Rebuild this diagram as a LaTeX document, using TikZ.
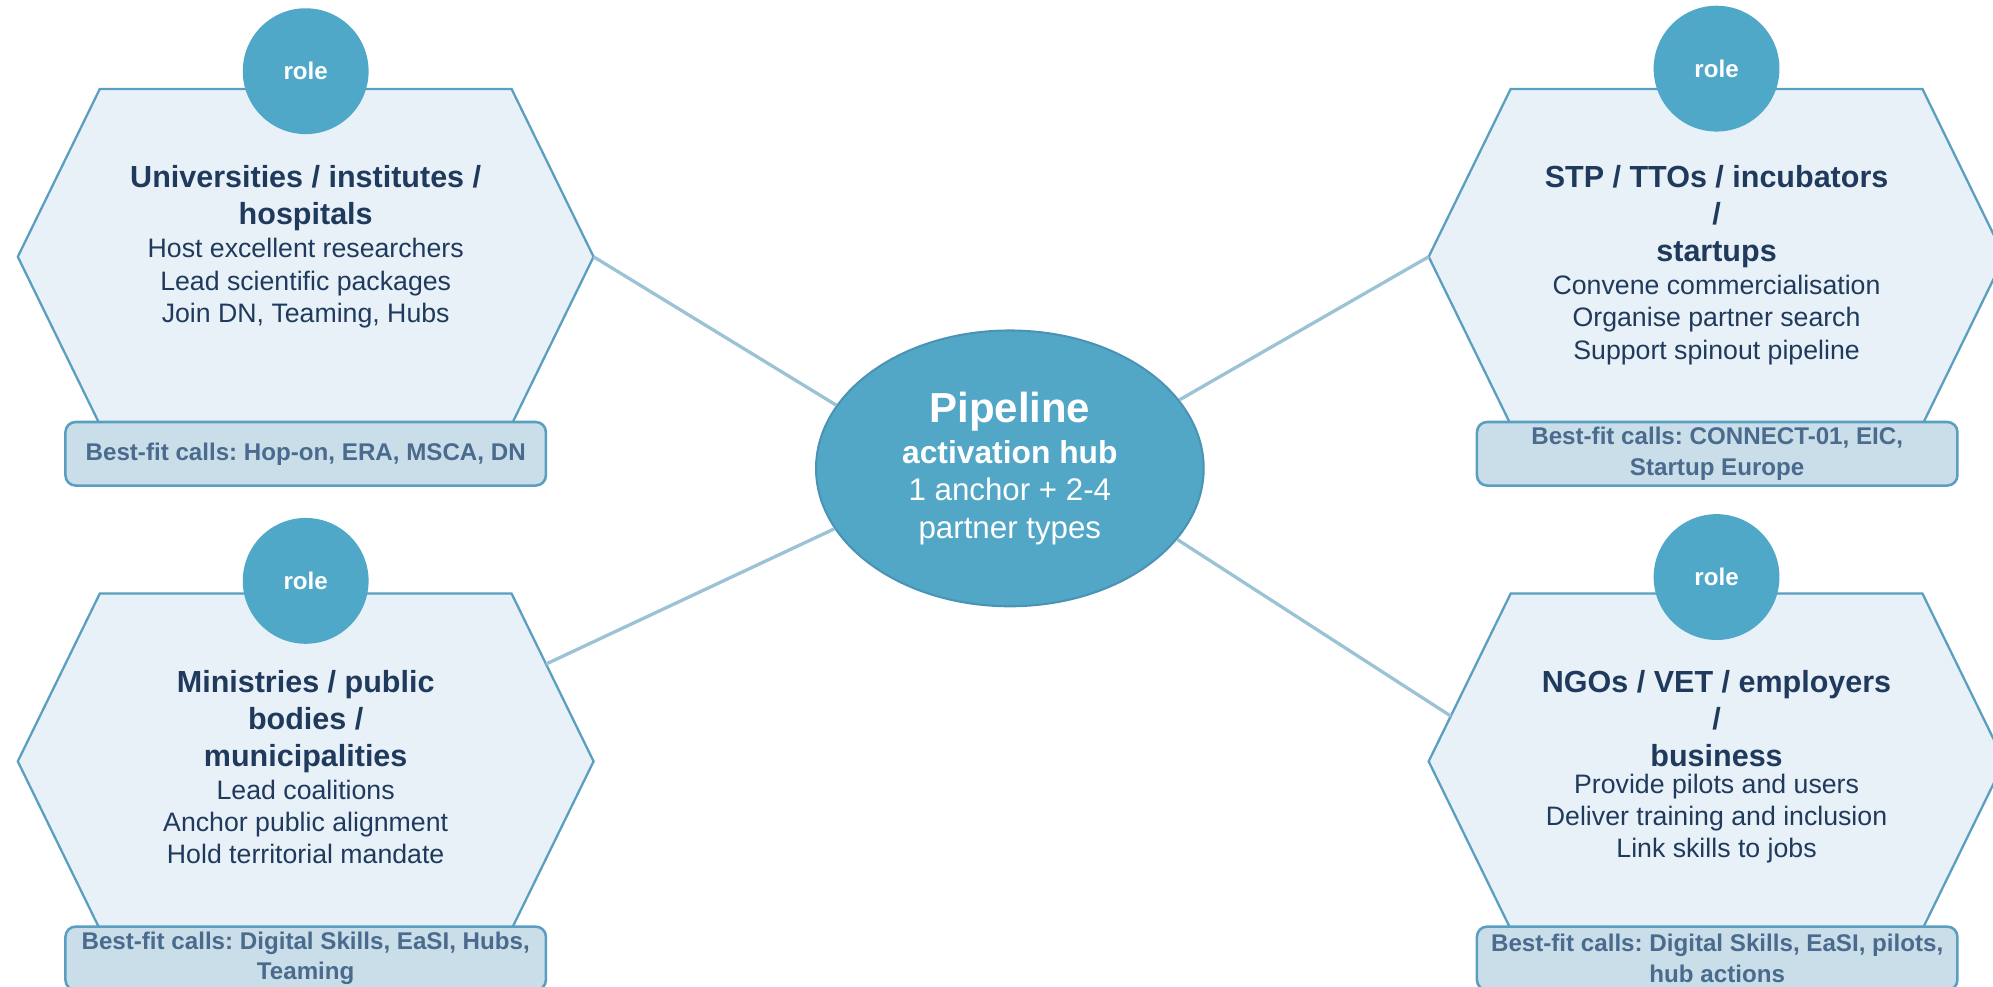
\documentclass[tikz,border=0pt]{standalone}
\usepackage{fontspec}
\setmainfont{Liberation Sans}
\frenchspacing
\usetikzlibrary{shapes.geometric,positioning}

\definecolor{hexfill}{HTML}{E8F1F8}
\definecolor{hexline}{HTML}{5A9EC0}
\definecolor{rolecol}{HTML}{4FA8C7}
\definecolor{hubfill}{HTML}{52A7C7}
\definecolor{hubline}{HTML}{4A93B5}
\definecolor{boxfill}{HTML}{C9DEE9}
\definecolor{boxtext}{HTML}{4A6B8D}
\definecolor{ink}{HTML}{1F3A5C}
\definecolor{linkcol}{HTML}{9CC3D5}

\begin{document}
\begin{tikzpicture}[x = 0.5pt, y = -0.5pt,
  hexa/.style = {fill=hexfill, draw=hexline, line width=0.9pt},
  role/.style = {circle, fill=rolecol, minimum size=49.5pt, inner sep=0pt, text=white, font=\fontsize{9.5}{11}\selectfont\bfseries},
  hextitle/.style = {anchor=north, inner sep=0pt, align=center, text=ink, font=\fontsize{12}{14.5}\selectfont\bfseries},
  hexbody/.style = {inner sep=0pt, align=center, text=ink, font=\fontsize{10.5}{12.7}\selectfont},
  calls/.style = {draw=hexline, fill=boxfill, line width=1pt, rounded corners=4pt, minimum width=189pt, minimum height=25pt, inner sep=0pt, align=center, text=boxtext, font=\fontsize{9.5}{12}\selectfont\bfseries},
  hub/.style = {ellipse, fill=hubfill, draw=hubline, line width=0.8pt, minimum width=152.5pt, minimum height=108.5pt, inner sep=0pt, align=center, text=white, font=\fontsize{12.3}{14.8}\selectfont},
  link/.style = {draw=linkcol, line width=1.3pt},
]

\useasboundingbox (0,0) rectangle (1568,776.5);

\draw[hexa] (14,202) -- (78.5,70) -- (402.5,70) -- (467,202) coordinate (UE) -- (402.5,334) -- (78.5,334) -- cycle;
\draw[hexa] (1124,202) coordinate (SW) -- (1188.5,70) -- (1512.5,70) -- (1577,202) -- (1512.5,334) -- (1188.5,334) -- cycle;
\draw[hexa] (14,599) -- (78.5,467) -- (402.5,467) -- coordinate[pos=0.42] (ME) (467,599) -- (402.5,731) -- (78.5,731) -- cycle;
\draw[hexa] (1124,599) -- coordinate[pos=0.27] (NW) (1188.5,467) -- (1512.5,467) -- (1577,599) -- (1512.5,731) -- (1188.5,731) -- cycle;

\node[role] (R1) at (240.5,56) {role};
\node[role] (R2) at (1350.5,54) {role};
\node[role] (R3) at (240.5,457) {role};
\node[role] (R4) at (1350.5,454) {role};

\node[hextitle] (T1) at (240.5,130) {Universities / institutes /\\hospitals};
\node[hexbody, below=2.5pt of T1] (B1) {Host excellent researchers\\Lead scientific packages\\Join DN, Teaming, Hubs};
\node[hextitle] (T2) at (1350.5,130) {STP / TTOs / incubators\\/\\startups};
\node[hexbody, below=2.5pt of T2] (B2) {Convene commercialisation\\Organise partner search\\Support spinout pipeline};
\node[hextitle] (T3) at (240.5,527) {Ministries / public\\bodies /\\municipalities};
\node[hexbody, below=2.5pt of T3] (B3) {Lead coalitions\\Anchor public alignment\\Hold territorial mandate};
\node[hextitle] (T4) at (1350.5,527) {NGOs / VET / employers\\/\\business};
\node[hexbody, below=2.5pt of T4] (B4) {Provide pilots and users\\Deliver training and inclusion\\Link skills to jobs};

\node[calls] (C1) at (240.5,357) {Best-fit calls: Hop-on, ERA, MSCA, DN};
\node[calls] (C2) at (1351,357) {Best-fit calls: CONNECT-01, EIC,\\Startup Europe};
\node[calls] (C3) at (240.5,754) {Best-fit calls: Digital Skills, EaSI, Hubs,\\Teaming};
\node[calls] (C4) at (1351,754) {Best-fit calls: Digital Skills, EaSI, pilots,\\hub actions};

\node[hub] (H) at (794.5,368.5) {{\fontsize{16.5}{20}\selectfont\bfseries Pipeline}\\[1.3pt]{\fontsize{12.5}{15}\selectfont\bfseries activation hub}\\1 anchor + 2-4\\partner types};

\draw[link] (UE) -- (H.160);
\draw[link] (H.199) -- (ME);
\draw[link] (H.22) -- (SW);
\draw[link] (H.337) -- (NW);

\end{tikzpicture}
\end{document}
